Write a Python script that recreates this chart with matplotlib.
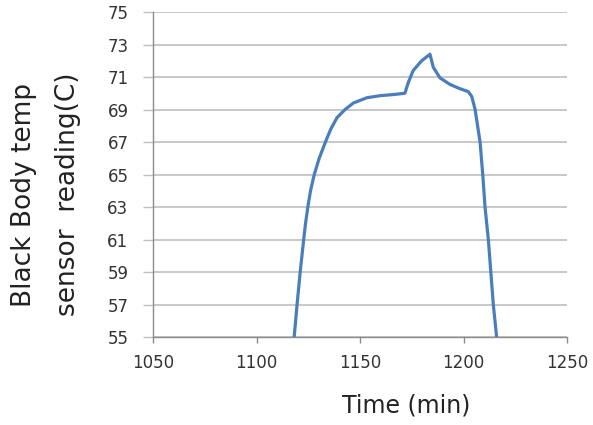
import matplotlib
matplotlib.use('Agg')
import matplotlib.pyplot as plt

# values
time_min = [1118.2, 1119.6, 1121.1, 1122.8, 1123.7, 1124.8, 1126.1, 1127.9, 1130.3,
            1133.3, 1135.9, 1138.9, 1142.8, 1146.8, 1153.2, 1159.7, 1166.1, 1171.7,
            1173.3, 1175.7, 1179.8, 1183.8, 1185.4, 1188.6, 1193.5, 1198.3, 1202.3,
            1204.0, 1205.6, 1208.0, 1209.3, 1210.4, 1212.0, 1213.2, 1214.4, 1216.0]
temp_c = [55.0, 57.0, 59.0, 61.0, 62.0, 63.0, 64.0, 65.0, 66.0,
          67.0, 67.8, 68.5, 69.0, 69.4, 69.72, 69.85, 69.92, 70.0,
          70.65, 71.4, 72.0, 72.4, 71.6, 70.95, 70.54, 70.28, 70.1,
          69.8, 69.0, 67.0, 65.0, 63.0, 61.0, 59.0, 57.0, 55.0]

x_ticks = [1050, 1100, 1150, 1200, 1250]
y_ticks = list(range(55, 76, 2))

fig = plt.figure(figsize=(5.93, 4.25), dpi=100)
ax = fig.add_axes([153/593, 1 - 337/425, (567 - 153)/593, (337 - 12)/425])

ax.plot(time_min, temp_c, color='#4a7ebb', lw=2.3, solid_joinstyle='round',
        solid_capstyle='round')

ax.set_xlim(1050, 1250)
ax.set_ylim(55, 75)
ax.set_xticks(x_ticks)
ax.set_yticks(y_ticks)

ax.grid(axis='y', color='#bfbfbf', lw=1.2)
ax.set_axisbelow(True)
for s in ['top', 'right']:
    ax.spines[s].set_visible(False)
for s in ['left', 'bottom']:
    ax.spines[s].set_color('#8c8c8c')
    ax.spines[s].set_linewidth(1.0)

ax.tick_params(axis='y', length=7.2, width=1.0, color='#bfbfbf', pad=10.5,
               labelsize=12, labelcolor='#333333')
ax.tick_params(axis='x', length=4.3, width=1.0, color='#8c8c8c', pad=8,
               labelsize=12, labelcolor='#333333')

fig.text(406/593, 1 - 405/425, 'Time (min)', fontsize=17, ha='center', va='center',
         color='#222222')
fig.text(24/593, 1 - 195/425, 'Black Body temp', fontsize=19, rotation=90,
         ha='center', va='center', color='#222222')
fig.text(68/593, 1 - 194/425, 'sensor  reading(C)', fontsize=19, rotation=90,
         ha='center', va='center', color='#222222')

plt.savefig('out.png', dpi=100)
